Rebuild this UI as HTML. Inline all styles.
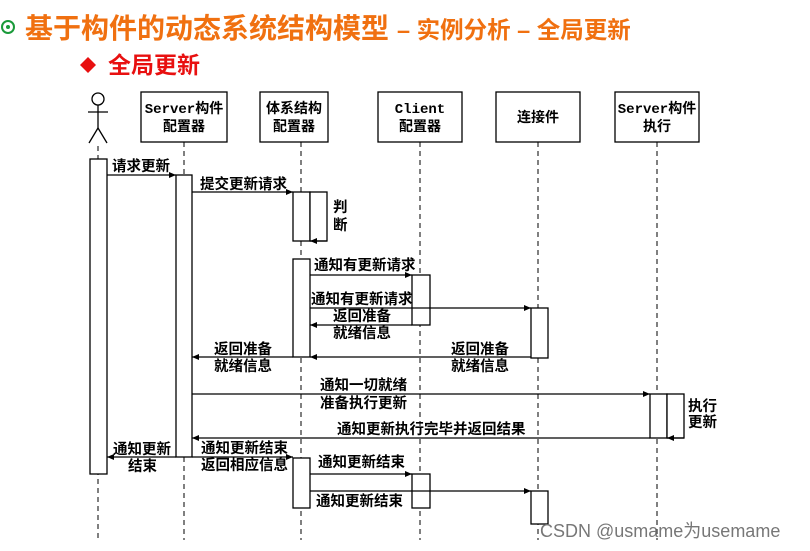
<!DOCTYPE html>
<html><head><meta charset="utf-8"><style>
html,body{margin:0;padding:0;background:#fff;}
svg{display:block;}
text{font-family:"Liberation Sans","Noto Sans CJK SC",sans-serif;}
.l{font-size:14.5px;font-weight:bold;fill:#000;}
.h{font-family:"Liberation Mono","Noto Sans CJK SC",monospace;font-size:14px;font-weight:bold;}
</style></head><body>
<svg width="810" height="551" viewBox="0 0 810 551" xmlns="http://www.w3.org/2000/svg">
<defs><marker id="a" markerWidth="8" markerHeight="8" refX="7" refY="4" orient="auto" markerUnits="userSpaceOnUse"><path d="M0,1 L7,4 L0,7 Z" fill="#000"/></marker></defs>
<g fill="#1a9a3a"><circle cx="8" cy="27" r="6" fill="none" stroke="#1a9a3a" stroke-width="2"/><circle cx="8" cy="27" r="2"/></g>
<text x="25" y="38" font-size="28" font-weight="bold" fill="#f07010">基于构件的动态系统结构模型<tspan font-size="23.5" dx="8">– 实例分析 – 全局更新</tspan></text>
<path d="M80,65 L88,57 L96,65 L88,73 Z" fill="#e81010"/>
<text x="108" y="73" font-size="23" font-weight="bold" fill="#e81010">全局更新</text>
<g stroke="#000" stroke-width="1.3" fill="none">
<circle cx="98" cy="99" r="6"/><line x1="98" y1="105" x2="98" y2="128"/><line x1="88" y1="112" x2="108" y2="112"/>
<line x1="98" y1="128" x2="89" y2="143"/><line x1="98" y1="128" x2="107" y2="143"/>
</g>
<g stroke="#000" stroke-width="1.3" fill="#fff">
<rect x="141" y="92" width="86" height="50"/>
<rect x="260" y="92" width="68" height="50"/>
<rect x="378" y="92" width="84" height="50"/>
<rect x="496" y="92" width="84" height="50"/>
<rect x="615" y="92" width="84" height="50"/>
</g>
<g text-anchor="middle">
<text x="184" y="113" class="h">Server构件</text><text x="184" y="131" class="h">配置器</text>
<text x="294" y="113" class="h">体系结构</text><text x="294" y="131" class="h">配置器</text>
<text x="420" y="113" class="h">Client</text><text x="420" y="131" class="h">配置器</text>
<text x="538" y="122" class="h">连接件</text>
<text x="657" y="113" class="h">Server构件</text><text x="657" y="131" class="h">执行</text>
</g>
<g stroke="#000" stroke-width="1" stroke-dasharray="5,4">
<line x1="98" y1="146" x2="98" y2="540"/>
<line x1="184" y1="142" x2="184" y2="540"/>
<line x1="301" y1="142" x2="301" y2="540"/>
<line x1="420" y1="142" x2="420" y2="540"/>
<line x1="538" y1="142" x2="538" y2="540"/>
<line x1="657" y1="142" x2="657" y2="540"/>
</g>
<g stroke="#000" stroke-width="1.3" fill="#fff">
<rect x="90" y="159" width="17" height="315"/>
<rect x="176" y="175" width="16" height="282"/>
<rect x="293" y="192" width="17" height="49"/>
<rect x="310" y="192" width="17" height="49"/>
<rect x="293" y="259" width="17" height="98"/>
<rect x="412" y="275" width="18" height="50"/>
<rect x="531" y="308" width="17" height="50"/>
<rect x="650" y="394" width="17" height="44"/>
<rect x="667" y="394" width="17" height="44"/>
<rect x="293" y="458" width="17" height="50"/>
<rect x="412" y="474" width="18" height="34"/>
<rect x="531" y="491" width="17" height="33"/>
</g>
<g stroke="#000" stroke-width="1.2" marker-end="url(#a)">
<line x1="107" y1="175" x2="176" y2="175"/>
<line x1="192" y1="192" x2="293" y2="192"/>
<line x1="327" y1="241" x2="310" y2="241"/>
<line x1="310" y1="275" x2="412" y2="275"/>
<line x1="310" y1="308" x2="531" y2="308"/>
<line x1="412" y1="325" x2="310" y2="325"/>
<line x1="293" y1="357" x2="192" y2="357"/>
<line x1="531" y1="357" x2="310" y2="357"/>
<line x1="192" y1="394" x2="650" y2="394"/>
<line x1="684" y1="438" x2="667" y2="438"/>
<line x1="650" y1="438" x2="192" y2="438"/>
<line x1="176" y1="457" x2="107" y2="457"/>
<line x1="192" y1="457" x2="293" y2="457"/>
<line x1="310" y1="474" x2="412" y2="474"/>
<line x1="310" y1="491" x2="531" y2="491"/>
</g>
<g>
<text x="112" y="171" class="l">请求更新</text>
<text x="200" y="189" class="l">提交更新请求</text>
<text x="333" y="212" class="l">判</text><text x="333" y="230" class="l">断</text>
<text x="314" y="270" class="l">通知有更新请求</text>
<text x="311" y="304" class="l">通知有更新请求</text>
<text x="333" y="321" class="l">返回准备</text><text x="333" y="338" class="l">就绪信息</text>
<text x="214" y="354" class="l">返回准备</text><text x="214" y="371" class="l">就绪信息</text>
<text x="451" y="354" class="l">返回准备</text><text x="451" y="371" class="l">就绪信息</text>
<text x="320" y="390" class="l">通知一切就绪</text><text x="320" y="408" class="l">准备执行更新</text>
<text x="688" y="411" class="l">执行</text><text x="688" y="427" class="l">更新</text>
<text x="337" y="434" class="l">通知更新执行完毕并返回结果</text>
<text x="113" y="454" class="l">通知更新</text><text x="128" y="471" class="l">结束</text>
<text x="201" y="453" class="l">通知更新结束</text><text x="201" y="470" class="l">返回相应信息</text>
<text x="318" y="467" class="l">通知更新结束</text>
<text x="316" y="506" class="l">通知更新结束</text>
</g>
<text x="540" y="537" font-size="18" fill="#777">CSDN @usmame为usemame</text>
</svg>
</body></html>
